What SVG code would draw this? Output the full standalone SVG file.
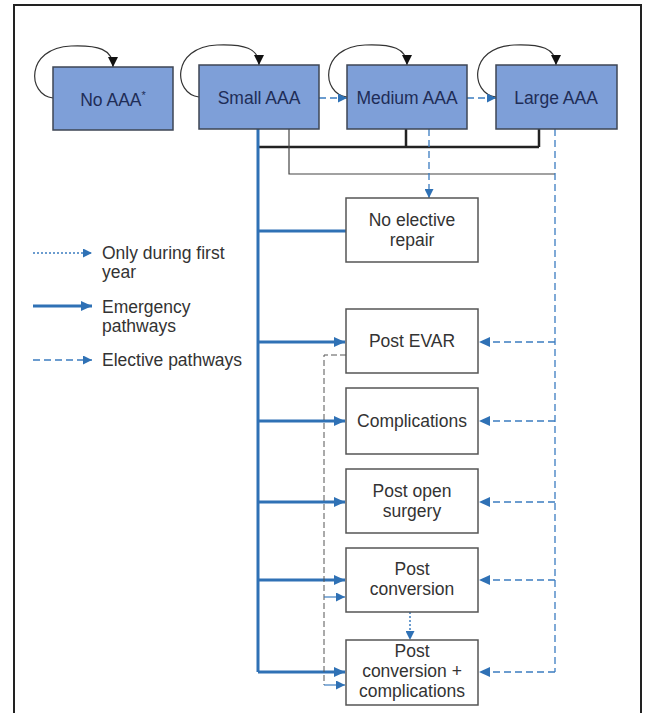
<svg xmlns="http://www.w3.org/2000/svg" width="645" height="713" viewBox="0 0 645 713">
<style>
  .state rect { fill: #7e9fd8; stroke: #3e4654; stroke-width: 1.5; }
  .state text { font-family: "Liberation Sans", Arial, sans-serif; font-size: 17.5px; fill: #1f2d57; text-anchor: middle; }
  .box rect { fill: #ffffff; stroke: #555555; stroke-width: 1.5; }
  .box text, .legend text { font-family: "Liberation Sans", Arial, sans-serif; font-size: 17.5px; fill: #333333; }
  .box text { text-anchor: middle; }
  .loop { fill: none; stroke: #333333; stroke-width: 1.2; }
  .blk { fill: none; stroke: #222222; stroke-width: 2.5; }
  .thin { fill: none; stroke: #444444; stroke-width: 1.2; }
  .emer { fill: none; stroke: #2f71b5; stroke-width: 3; }
  .elec { fill: none; stroke: #3b7cc0; stroke-width: 1.3; stroke-dasharray: 7 4; }
  .grey { fill: none; stroke: #555555; stroke-width: 1; stroke-dasharray: 6 3; }
  .dot { fill: none; stroke: #3b7cc0; stroke-width: 1.5; stroke-dasharray: 2 2; }
  .blue1 { fill: none; stroke: #3b7cc0; stroke-width: 1.2; }
</style>
<defs>
  <marker id="ahBlack" markerUnits="userSpaceOnUse" markerWidth="11" markerHeight="10" refX="10" refY="5" orient="auto" viewBox="0 0 11 10">
    <path d="M0,0 L10,5 L0,10 z" fill="#111111"/>
  </marker>
  <marker id="ahBlue" markerUnits="userSpaceOnUse" markerWidth="12" markerHeight="10" refX="11" refY="5" orient="auto" viewBox="0 0 12 10">
    <path d="M0,0 L11,5 L0,10 z" fill="#2f71b5"/>
  </marker>
  <marker id="ahBlueS" markerUnits="userSpaceOnUse" markerWidth="10" markerHeight="9" refX="9" refY="4.5" orient="auto" viewBox="0 0 10 9">
    <path d="M0,0 L9,4.5 L0,9 z" fill="#2f71b5"/>
  </marker>
</defs>

<!-- frame -->
<path d="M14,713 V5 H641 V713" fill="none" stroke="#222222" stroke-width="2"/>

<!-- connectors -->
<g id="connectors">
  <!-- self loops -->
  <path class="loop" d="M53,98 C27,95 25,48 71,46 C98,45 113,49 113,67" marker-end="url(#ahBlack)"/>
  <path class="loop" d="M199,97 C173,94 171,47 217,45 C244,44 259,48 259,65" marker-end="url(#ahBlack)"/>
  <path class="loop" d="M347,97 C321,94 319,47 365,45 C392,44 407,48 407,65" marker-end="url(#ahBlack)"/>
  <path class="loop" d="M496,97 C470,94 468,47 514,45 C541,44 556,48 556,65" marker-end="url(#ahBlack)"/>

  <!-- progression -->
  <path class="elec" d="M319,98 H347" marker-end="url(#ahBlueS)"/>
  <path class="elec" d="M467,98 H496" marker-end="url(#ahBlueS)"/>

  <!-- black collectors -->
  <path class="blk" d="M258,147 H539 M406,129 V147 M539,129 V147"/>
  <path class="thin" d="M289,129 V174 H555"/>

  <!-- medium to no elective repair -->
  <path class="elec" d="M429,129 V198" marker-end="url(#ahBlueS)"/>

  <!-- emergency pathways -->
  <path class="emer" d="M258,129 V672"/>
  <path class="emer" d="M258,231 H346"/>
  <path class="emer" d="M258,342 H345" marker-end="url(#ahBlue)"/>
  <path class="emer" d="M258,421 H345" marker-end="url(#ahBlue)"/>
  <path class="emer" d="M258,502 H345" marker-end="url(#ahBlue)"/>
  <path class="emer" d="M258,580 H345" marker-end="url(#ahBlue)"/>
  <path class="emer" d="M258,672 H345" marker-end="url(#ahBlue)"/>

  <!-- elective pathways from large AAA -->
  <path class="elec" d="M555,129 V672"/>
  <path class="elec" d="M555,342 H479" marker-end="url(#ahBlue)"/>
  <path class="elec" d="M555,421 H479" marker-end="url(#ahBlue)"/>
  <path class="elec" d="M555,502 H479" marker-end="url(#ahBlue)"/>
  <path class="elec" d="M555,580 H479" marker-end="url(#ahBlue)"/>
  <path class="elec" d="M555,672 H479" marker-end="url(#ahBlue)"/>

  <!-- from post EVAR -->
  <path class="grey" d="M346,355 H324 V685"/>
  <path class="blue1" d="M324,597 H345" marker-end="url(#ahBlueS)"/>
  <path class="blue1" d="M324,685 H345" marker-end="url(#ahBlueS)"/>

  <!-- post conversion to post conversion + complications -->
  <path class="dot" d="M410,612 V640" marker-end="url(#ahBlueS)"/>
</g>

<!-- top states -->
<g id="no-aaa" class="state">
  <rect x="53" y="67" width="120" height="63"/>
  <text x="113" y="106">No AAA<tspan font-size="11" dy="-7">*</tspan></text>
</g>
<g id="small-aaa" class="state">
  <rect x="199" y="65" width="120" height="64"/>
  <text x="259" y="104">Small AAA</text>
</g>
<g id="medium-aaa" class="state">
  <rect x="347" y="65" width="120" height="64"/>
  <text x="407" y="104">Medium AAA</text>
</g>
<g id="large-aaa" class="state">
  <rect x="496" y="65" width="121" height="64"/>
  <text x="556" y="104">Large AAA</text>
</g>

<!-- lower states -->
<g id="no-elective-repair" class="box">
  <rect x="346" y="198" width="132" height="64"/>
  <text x="412" y="226">No elective</text>
  <text x="412" y="246">repair</text>
</g>
<g id="post-evar" class="box">
  <rect x="346" y="309" width="132" height="64"/>
  <text x="412" y="347">Post EVAR</text>
</g>
<g id="complications" class="box">
  <rect x="346" y="388" width="132" height="66"/>
  <text x="412" y="427">Complications</text>
</g>
<g id="post-open-surgery" class="box">
  <rect x="346" y="469" width="132" height="64"/>
  <text x="412" y="497">Post open</text>
  <text x="412" y="517">surgery</text>
</g>
<g id="post-conversion" class="box">
  <rect x="346" y="548" width="132" height="64"/>
  <text x="412" y="575">Post</text>
  <text x="412" y="595">conversion</text>
</g>
<g id="post-conversion-complications" class="box">
  <rect x="346" y="640" width="132" height="65"/>
  <text x="412" y="657">Post</text>
  <text x="412" y="677">conversion +</text>
  <text x="412" y="697">complications</text>
</g>

<!-- legend -->
<g id="legend" class="legend">
  <path class="dot" d="M33,253 H92" marker-end="url(#ahBlueS)"/>
  <text x="102" y="259">Only during first</text>
  <text x="102" y="278">year</text>
  <path class="emer" d="M33,306 H92" marker-end="url(#ahBlue)"/>
  <text x="102" y="313">Emergency</text>
  <text x="102" y="332">pathways</text>
  <path class="elec" d="M33,360 H92" marker-end="url(#ahBlueS)"/>
  <text x="102" y="366">Elective pathways</text>
</g>
</svg>
